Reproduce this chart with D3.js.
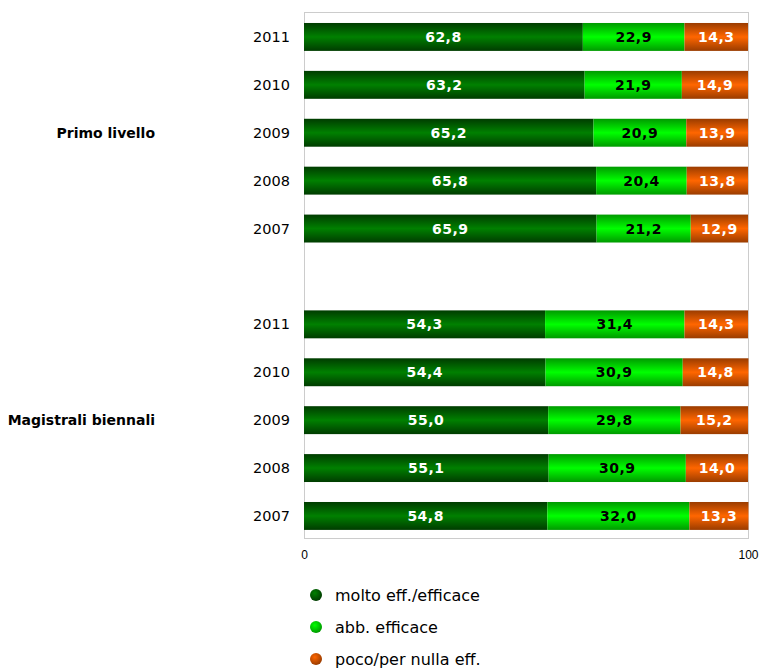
<!DOCTYPE html>
<html><head><meta charset="utf-8">
<script src="https://cdn.jsdelivr.net/npm/d3@7"></script>
<style>body{margin:0;background:#fff}</style>
</head><body>
<svg id="c" width="759" height="668"></svg>
<script>
const groups = ["Primo livello", "Magistrali biennali"];
const years = ["2011", "2010", "2009", "2008", "2007"];
const seriesNames = ["molto eff./efficace", "abb. efficace", "poco/per nulla eff."];
const primoMolto = [62.8, 63.2, 65.2, 65.8, 65.9];
const primoAbb = [22.9, 21.9, 20.9, 20.4, 21.2];
const primoPoco = [14.3, 14.9, 13.9, 13.8, 12.9];
const magMolto = [54.3, 54.4, 55.0, 55.1, 54.8];
const magAbb = [31.4, 30.9, 29.8, 30.9, 32.0];
const magPoco = [14.3, 14.8, 15.2, 14.0, 13.3];
const xTicks = [0, 100];

(function () {
const colors = [
  {edge: "#003c00", mid: "#008000", text: "#fff"},
  {edge: "#009a00", mid: "#00ff00", text: "#000"},
  {edge: "#9a3c00", mid: "#ff6600", text: "#fff"}
];

const rows = [];
years.forEach((yr, i) => rows.push({g: 0, year: yr, key: "p" + i, vals: [primoMolto[i], primoAbb[i], primoPoco[i]]}));
rows.push({g: -1, year: "", key: "gap", vals: null});
years.forEach((yr, i) => rows.push({g: 1, year: yr, key: "m" + i, vals: [magMolto[i], magAbb[i], magPoco[i]]}));

const svg = d3.select("#c");
const pl = 304, pr = 748, pt = 13, pb = 539;
const x = d3.scaleLinear().domain([0, 100]).range([pl, pr]);
const y = d3.scaleBand().domain(rows.map(r => r.key)).range([pt + 0.4, pb + 0.5]).paddingInner(0.417).paddingOuter(0.2);

const defs = svg.append("defs");
colors.forEach((c, i) => {
  const g = defs.append("linearGradient").attr("id", "g" + i).attr("x1", 0).attr("y1", 0).attr("x2", 0).attr("y2", 1);
  g.append("stop").attr("offset", "0%").attr("stop-color", c.edge);
  g.append("stop").attr("offset", "50%").attr("stop-color", c.mid);
  g.append("stop").attr("offset", "100%").attr("stop-color", c.edge);
  const r = defs.append("radialGradient").attr("id", "r" + i).attr("cx", "40%").attr("cy", "35%").attr("r", "65%");
  r.append("stop").attr("offset", "0%").attr("stop-color", c.mid);
  r.append("stop").attr("offset", "100%").attr("stop-color", c.edge);
});

svg.append("rect").attr("x", pl + 0.5).attr("y", pt - 0.5).attr("width", pr - pl).attr("height", pb - pt)
  .attr("fill", "#fff").attr("stroke", "#cccccc");

rows.filter(r => r.vals).forEach(r => {
  let acc = 0;
  r.vals.forEach((v, i) => {
    const x0 = x(acc), x1 = x(acc + v);
    svg.append("rect").attr("x", x0).attr("y", y(r.key)).attr("width", x1 - x0).attr("height", y.bandwidth())
      .attr("fill", `url(#g${i})`);
    svg.append("text").attr("x", (x0 + x1) / 2).attr("y", y(r.key) + y.bandwidth() / 2 + 5)
      .attr("text-anchor", "middle").attr("font-family", "DejaVu Sans").attr("font-weight", "bold")
      .attr("font-size", 14).attr("letter-spacing", 0.5).attr("fill", colors[i].text).text(v.toFixed(1).replace(".", ","));
    acc += v;
  });
  svg.append("text").attr("x", 290).attr("y", y(r.key) + y.bandwidth() / 2 + 5).attr("text-anchor", "end")
    .attr("font-family", "DejaVu Sans").attr("font-size", 14.5).attr("fill", "#000").text(r.year);
});

groups.forEach((g, gi) => {
  const mid = rows.filter(r => r.g === gi)[2];
  svg.append("text").attr("x", 155).attr("y", y(mid.key) + y.bandwidth() / 2 + 5).attr("text-anchor", "end")
    .attr("font-family", "DejaVu Sans").attr("font-weight", "bold").attr("font-size", 14).attr("fill", "#000").text(g);
});

const ax = svg.append("g").attr("transform", `translate(0,${pb})`)
  .call(d3.axisBottom(x).tickValues(xTicks).tickSize(0).tickPadding(11).tickFormat(d3.format("d")));
ax.select(".domain").remove();
ax.selectAll("text").attr("font-family", "Liberation Sans").attr("font-size", 12).attr("fill", "#000");

const lg = svg.append("g");
seriesNames.forEach((n, i) => {
  const cy = 595 + i * 32;
  lg.append("circle").attr("cx", 316).attr("cy", cy).attr("r", 6).attr("fill", `url(#r${i})`);
  lg.append("text").attr("x", 335).attr("y", cy + 5.5).attr("font-family", "DejaVu Sans").attr("font-size", 16)
    .attr("fill", "#000").text(n);
});
})();
</script>
</body></html>
